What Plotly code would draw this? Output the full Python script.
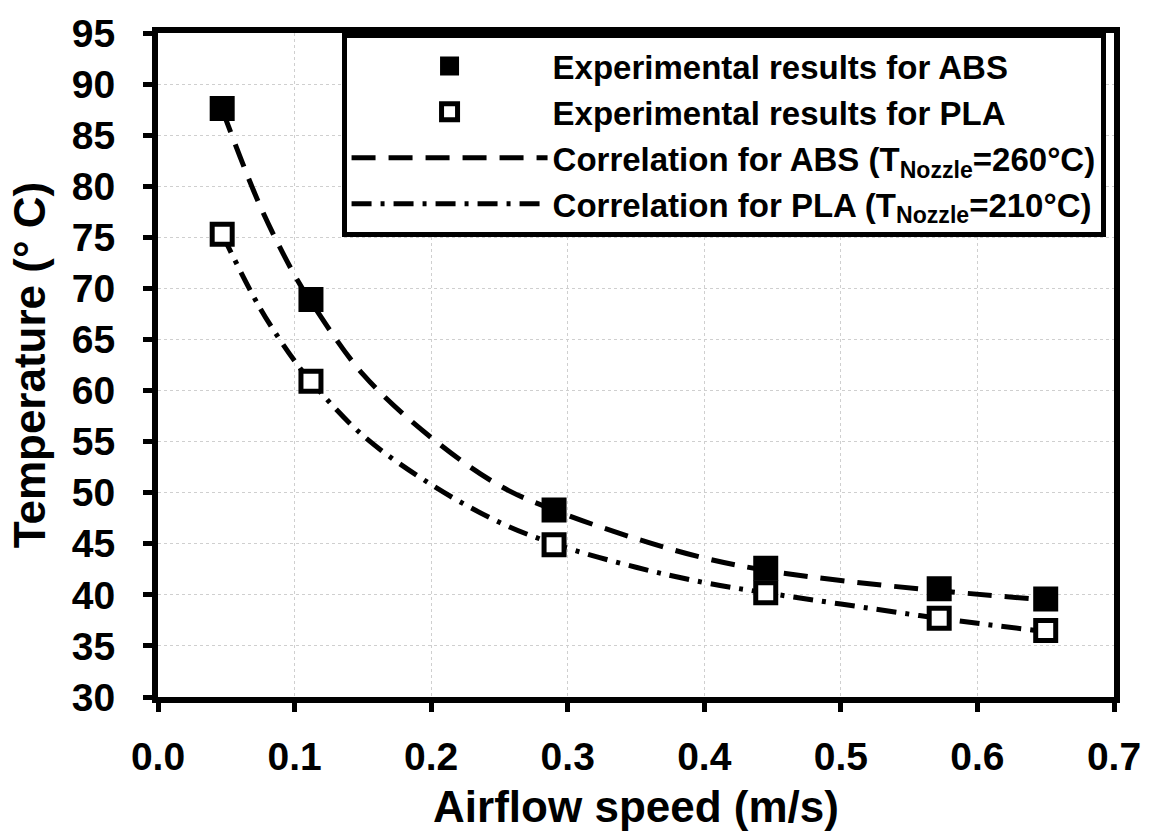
import plotly.graph_objects as go

# Experimental data
speed = [0.047, 0.112, 0.29, 0.445, 0.572, 0.65]
abs_temp = [87.6, 68.9, 48.3, 42.6, 40.6, 39.6]
pla_temp = [75.3, 60.9, 44.9, 40.2, 37.7, 36.5]

# Correlation curves
corr_speed = [0.047, 0.075, 0.1, 0.112, 0.15, 0.2, 0.25, 0.29, 0.35, 0.4, 0.445, 0.5, 0.572, 0.65]
corr_abs = [87.5, 78.0, 71.3, 68.7, 61.6, 55.4, 50.7, 48.3, 45.5, 43.6, 42.4, 41.4, 40.4, 39.5]
corr_pla = [75.3, 68.0, 62.9, 60.9, 55.6, 50.8, 47.1, 45.0, 42.7, 41.2, 40.2, 39.1, 37.7, 36.4]

x_ticks = [0.0, 0.1, 0.2, 0.3, 0.4, 0.5, 0.6, 0.7]
y_ticks = list(range(30, 100, 5))

FONT = "Liberation Sans, Arial, sans-serif"

fig = go.Figure()
fig.add_trace(go.Scatter(
    x=corr_speed, y=corr_abs, mode="lines", line_shape="spline",
    line=dict(color="black", width=5, dash="24px,13px"),
    name="Correlation for ABS (T<sub>Nozzle</sub>=260°C)", legendrank=3))
fig.add_trace(go.Scatter(
    x=corr_speed, y=corr_pla, mode="lines", line_shape="spline",
    line=dict(color="black", width=5, dash="20px,9px,4px,9px"),
    name="Correlation for PLA (T<sub>Nozzle</sub>=210°C)", legendrank=4))
fig.add_trace(go.Scatter(
    x=speed, y=abs_temp, mode="markers",
    marker=dict(symbol="square", size=22, color="black", line=dict(color="black", width=3)),
    name="Experimental results for ABS", legendrank=1))
fig.add_trace(go.Scatter(
    x=speed, y=pla_temp, mode="markers",
    marker=dict(symbol="square", size=20, color="white", line=dict(color="black", width=5)),
    name="Experimental results for PLA", legendrank=2))

axis_common = dict(
    showline=True, linecolor="black", linewidth=6, mirror=True,
    ticks="outside", ticklen=9, tickwidth=5, tickcolor="black",
    showgrid=True, gridcolor="#cfcfcf", gridwidth=1.2, griddash="dot",
    zeroline=False,
    tickfont=dict(family=FONT, size=39, color="black", weight="bold"),
)

fig.update_xaxes(
    range=[0, 0.7], tickvals=x_ticks, tickformat=".1f",
    title=dict(text="Airflow speed (m/s)", font=dict(family=FONT, size=44, color="black", weight="bold"), standoff=16),
    ticklabelstandoff=11, **axis_common)
fig.update_yaxes(
    range=[30, 95], tickvals=y_ticks,
    title=dict(text="Temperature (° C)", font=dict(family=FONT, size=44, color="black", weight="bold"), standoff=14),
    ticklabelstandoff=20, **axis_common)

fig.update_layout(
    width=1153, height=837,
    margin=dict(l=158, r=36, t=26, b=140),
    plot_bgcolor="white", paper_bgcolor="white",
    showlegend=True,
    legend=dict(
        x=0.192, y=1.0, xanchor="left", yanchor="top",
        bgcolor="white", bordercolor="black", borderwidth=5,
        font=dict(family=FONT, size=33, color="black", weight="bold"),
        itemwidth=196, tracegroupgap=0,
    ),
)

fig.write_html("out.html")
